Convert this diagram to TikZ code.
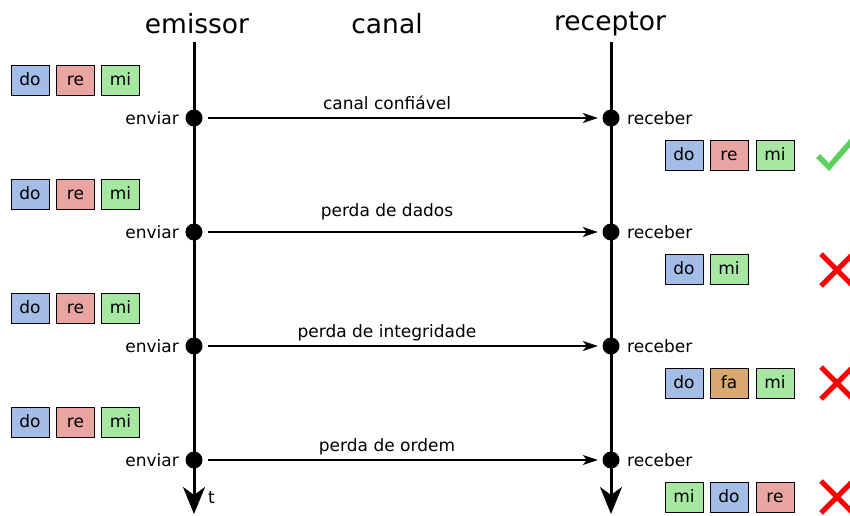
\documentclass[tikz,border=0pt]{standalone}
\usepackage{fontspec}
\setmainfont{DejaVu Sans}
\usetikzlibrary{arrows.meta}
\definecolor{cdo}{HTML}{A4BDE6}
\definecolor{cre}{HTML}{E8A5A2}
\definecolor{cmi}{HTML}{A6E8A2}
\definecolor{cfa}{HTML}{D8A870}
\definecolor{okgreen}{HTML}{5CD05C}
\definecolor{badred}{HTML}{FF0000}
\begin{document}
\begin{tikzpicture}[x=1pt,y=-1pt,
 note/.style={draw=black, line width=1pt, minimum width=38pt, minimum height=30pt, inner sep=0pt, text height=11.5pt, text depth=0.5pt, font=\fontsize{17}{20}\selectfont},
 lbl/.style={font=\fontsize{17}{20}\selectfont, inner sep=0pt},
 title/.style={font=\fontsize{26.5}{30}\selectfont, inner sep=0pt, anchor=base},
 dot/.style={circle, fill=black, minimum size=17pt, inner sep=0pt},
 life/.style={line width=3pt, -{Stealth[length=27pt,width=22pt,inset=8pt]}},
 msg/.style={line width=1.3pt, shorten <=5.5pt, shorten >=4.5pt, -{Stealth[length=15pt,width=10pt,inset=4pt]}},
 bad/.style={draw=badred, line width=5pt},
 good/.style={draw=okgreen, line width=5.5pt},
 ]
\useasboundingbox (0,0) rectangle (850,515);
% titles
\node[title] (temissor) at (197,33) {emissor};
\node[title] (tcanal) at (387,33) {canal};
\node[title] (treceptor) at (610,30) {receptor};
% lifelines
\coordinate (etop) at (194,42);
\coordinate (ebot) at (194,514);
\coordinate (rtop) at (611,42);
\coordinate (rbot) at (611,514);
\draw[life] (etop) -- (ebot);
\draw[life] (rtop) -- (rbot);
\node[lbl, anchor=west] (tlabel) at (208,498) {t};
% rows
\foreach \i/\y/\txt/\ty in {1/118/canal confiável/109, 2/232/perda de dados/216, 3/346/perda de integridade/337, 4/460/perda de ordem/451}{
  \node[dot] (s\i) at (194,\y) {};
  \node[dot] (r\i) at (611,\y) {};
  \draw[msg] (s\i) -- (r\i);
  \node[lbl, anchor=base] (m\i) at (387,\ty) {\txt};
  \node[lbl, anchor=east] (env\i) at (179,\y) {enviar};
  \node[lbl, anchor=west] (rec\i) at (627,\y) {receber};
  \pgfmathsetmacro{\sy}{\y-38}
  \node[note, fill=cdo] (sdo\i) at (30,\sy) {do};
  \node[note, fill=cre] (sre\i) at (75.5,\sy) {re};
  \node[note, fill=cmi] (smi\i) at (120.5,\sy) {mi};
}
% received
\node[note, fill=cdo] (rdo1) at (684,155) {do};
\node[note, fill=cre] (rre1) at (729,155) {re};
\node[note, fill=cmi] (rmi1) at (775,155) {mi};
\node[note, fill=cdo] (rdo2) at (684,269) {do};
\node[note, fill=cmi] (rmi2) at (729,269) {mi};
\node[note, fill=cdo] (rdo3) at (684,383) {do};
\node[note, fill=cfa] (rfa3) at (729,383) {fa};
\node[note, fill=cmi] (rmi3) at (775,383) {mi};
\node[note, fill=cmi] (rmi4) at (684,497) {mi};
\node[note, fill=cdo] (rdo4) at (729,497) {do};
\node[note, fill=cre] (rre4) at (775,497) {re};
% marks
\draw[good] (818,156) -- (829,167) -- (856,136);
\draw[bad] (821,254) -- (853,286) (821,286) -- (853,254);
\draw[bad] (821,367) -- (853,399) (821,399) -- (853,367);
\draw[bad] (821,481) -- (853,513) (821,513) -- (853,481);
\end{tikzpicture}
\end{document}
